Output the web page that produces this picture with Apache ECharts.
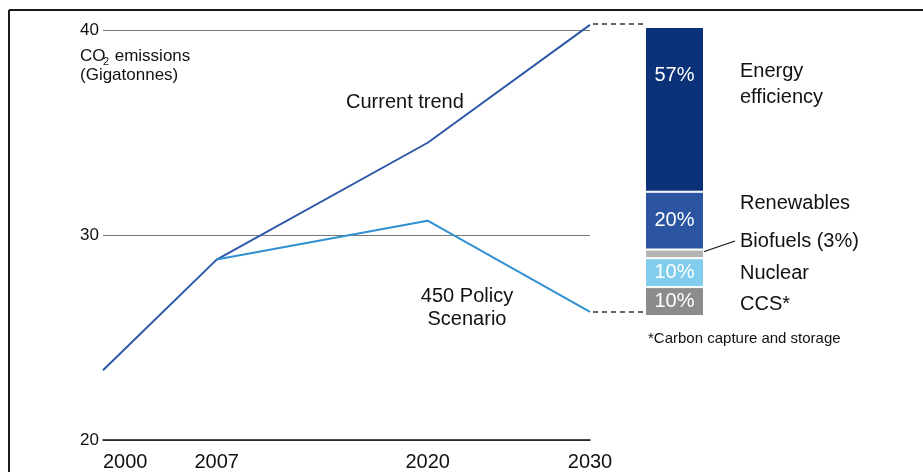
<!DOCTYPE html>
<html>
<head>
<meta charset="utf-8">
<script src="https://cdn.jsdelivr.net/npm/echarts@6/dist/echarts.min.js"></script>
<style>
  html, body { margin: 0; padding: 0; background: #fff; }
  #main { width: 923px; height: 472px; }
</style>
</head>
<body>
<div id="main"></div>
<script>
// years on the x axis
const years = [2000, 2007, 2020, 2030];
// CO2 emissions, gigatonnes
const currentTrend = [23.4, 28.8, 34.5, 40.25];
const policyYears = [2007, 2020, 2030];
const policy450 = [28.8, 30.7, 26.25];
const yTicks = [20, 30, 40];
// share of the abatement in 2030 (bottom to top)
const measures = ["CCS*", "Nuclear", "Biofuels (3%)", "Renewables", "Energy efficiency"];
const shares = [10, 10, 3, 20, 57];
const barColors = ["#8c8c8c", "#80cdee", "#b4b4b4", "#2b55a0", "#0b3178"];

const font = "'Liberation Sans', Arial, sans-serif";
const chart = echarts.init(document.getElementById("main"));

const barSeries = measures.map((name, i) => ({
  name: name,
  type: "bar",
  xAxisIndex: 1,
  yAxisIndex: 1,
  stack: "share",
  barWidth: "100%",
  data: [shares[i]],
  itemStyle: { color: barColors[i], borderColor: "#fff", borderWidth: 1 },
  label: {
    show: shares[i] >= 10,
    formatter: shares[i] + "%",
    color: "#fff",
    fontSize: 20,
    fontFamily: font,
    position: i === 4 ? "insideTop" : "inside",
    distance: i === 4 ? 38 : 0,
  },
  silent: true,
}));

let option = {
  animation: false,
  grid: [
    { left: 103, right: 333, top: 30, bottom: 32 },
    { left: 645, right: 219, top: 27, bottom: 156 },
  ],
  xAxis: [
    {
      type: "value",
      min: years[0],
      max: years[years.length - 1],
      axisLine: { show: true, lineStyle: { color: "#111", width: 1.5 } },
      axisTick: { show: false },
      splitLine: { show: false },
      axisLabel: {
        customValues: years,
        alignMinLabel: "left",
        formatter: (v) => String(v),
        margin: 12,
        color: "#111",
        fontSize: 20,
        fontFamily: font,
      },
    },
    {
      type: "category",
      gridIndex: 1,
      data: ["2030"],
      show: false,
    },
  ],
  yAxis: [
    {
      type: "value",
      min: 20,
      max: 40,
      interval: 10,
      axisLine: { show: false },
      axisTick: { show: false },
      splitLine: { lineStyle: { color: "#777", width: 1.2 } },
      axisLabel: {
        margin: 4,
        color: "#111",
        fontSize: 17,
        fontFamily: font,
        formatter: (v) => (yTicks.indexOf(v) >= 0 ? String(v) : ""),
      },
    },
    {
      type: "value",
      gridIndex: 1,
      min: 0,
      max: 100,
      show: false,
    },
  ],
  series: [
    {
      name: "Current trend",
      type: "line",
      clip: false,
      data: years.map((y, i) => [y, currentTrend[i]]),
      symbol: "none",
      lineStyle: { color: "#2c58a7", width: 2 },
      silent: true,
    },
    {
      name: "450 Policy Scenario",
      type: "line",
      clip: false,
      data: policyYears.map((y, i) => [y, policy450[i]]),
      symbol: "none",
      lineStyle: { color: "#3190d0", width: 2 },
      silent: true,
    },
  ].concat(barSeries),
};
chart.setOption(option);

// connectors from the 2030 values to the bar, plus annotations
const pTop = chart.convertToPixel({ gridIndex: 0 }, [2030, currentTrend[3]]);
const pBot = chart.convertToPixel({ gridIndex: 0 }, [2030, policy450[2]]);
const barLeft = 645;

function txt(x, y, text, size, align) {
  return {
    type: "text",
    x: x,
    y: y,
    silent: true,
    style: {
      text: text,
      fill: "#111",
      font: size + "px " + font,
      textAlign: align || "left",
      textVerticalAlign: "middle",
    },
  };
}

chart.setOption({
  graphic: [
    { type: "line", silent: true, shape: { x1: 9, y1: 10, x2: 923, y2: 10 }, style: { stroke: "#1a1a1a", lineWidth: 2 } },
    { type: "line", silent: true, shape: { x1: 9, y1: 10, x2: 9, y2: 472 }, style: { stroke: "#1a1a1a", lineWidth: 2 } },
    { type: "line", silent: true, shape: { x1: pTop[0] + 3, y1: pTop[1] - 1, x2: barLeft, y2: pTop[1] - 1 }, style: { stroke: "#333", lineWidth: 1.5, lineDash: [5, 4] } },
    { type: "line", silent: true, shape: { x1: pBot[0] + 3, y1: pBot[1], x2: barLeft, y2: pBot[1] }, style: { stroke: "#333", lineWidth: 1.5, lineDash: [5, 4] } },
    { type: "line", silent: true, shape: { x1: 700, y1: 253, x2: 735, y2: 241 }, style: { stroke: "#111", lineWidth: 1.2 } },
    txt(80, 56, "CO", 17),
    {
      type: "text", x: 103, y: 62, silent: true,
      style: { text: "2", fill: "#111", font: "11px " + font, textVerticalAlign: "middle" },
    },
    txt(110, 56, " emissions", 17),
    txt(80, 75, "(Gigatonnes)", 17),
    txt(346, 102, "Current trend", 20),
    txt(467, 296, "450 Policy", 20, "center"),
    txt(467, 319, "Scenario", 20, "center"),
    txt(740, 71, "Energy", 20),
    txt(740, 97, "efficiency", 20),
    txt(740, 203, measures[3], 20),
    txt(740, 241, measures[2], 20),
    txt(740, 273, measures[1], 20),
    txt(740, 304, measures[0], 20),
    txt(648, 339, "*Carbon capture and storage", 15),
  ],
});
</script>
</body>
</html>
